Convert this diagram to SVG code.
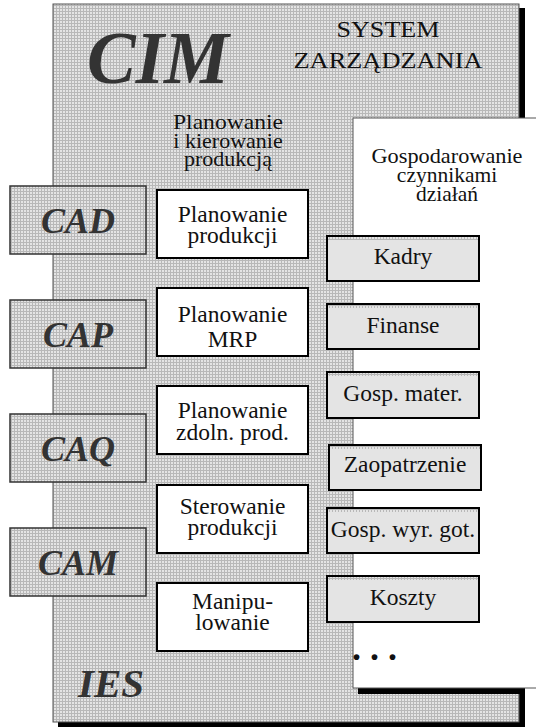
<svg xmlns="http://www.w3.org/2000/svg" width="536" height="727" viewBox="0 0 536 727">
  <defs>
    <pattern id="dots" width="3" height="3" patternUnits="userSpaceOnUse">
      <rect width="3" height="3" fill="#b8b8b8"/>
      <rect width="2" height="2" fill="#e4e4e4"/>
    </pattern>
    <style>
      .t { font-family: "Liberation Serif", "Times New Roman", serif; fill: #111; text-anchor: middle; }
      .m { font-size: 23.5px; }
      .big { font-family: "Liberation Serif", "Times New Roman", serif; font-weight: bold; font-style: italic; fill: #333; text-anchor: middle; }
      .side { fill: url(#dots); stroke: #333; stroke-width: 1.5; }
      .task { fill: #fff; stroke: #000; stroke-width: 2; }
      .res { fill: #e4e4e4; stroke: #000; stroke-width: 2; }
      .shadow { fill: #000; }
    </style>
  </defs>

  <!-- outer management system panel -->
  <g id="cim-panel">
    <rect class="shadow" x="519" y="8" width="6" height="719"/>
    <rect class="shadow" x="58" y="722" width="467" height="5"/>
    <rect x="53" y="4" width="466" height="718" fill="url(#dots)" stroke="#555" stroke-width="1"/>
    <text class="big" x="158" y="83" font-size="73">CIM</text>
    <text class="big" x="111" y="697" font-size="41">IES</text>
    <text class="t" x="388" y="37" font-size="24" textLength="103" lengthAdjust="spacingAndGlyphs">SYSTEM</text>
    <text class="t" x="388" y="68" font-size="24" textLength="189" lengthAdjust="spacingAndGlyphs">ZARZĄDZANIA</text>
    <text class="t" x="228" y="129" font-size="22" textLength="110" lengthAdjust="spacingAndGlyphs">Planowanie</text>
    <text class="t" x="228" y="148" font-size="22">i kierowanie</text>
    <text class="t" x="228" y="166" font-size="22">produkcją</text>
  </g>

  <!-- resource management panel -->
  <g id="resources-panel">
    <rect class="shadow" x="358" y="688" width="167" height="6"/>
    <rect x="353" y="118" width="200" height="570" fill="#fff" stroke="#555" stroke-width="1"/>
    <text class="t" x="447" y="163" font-size="21.5" textLength="151" lengthAdjust="spacingAndGlyphs">Gospodarowanie</text>
    <text class="t" x="447" y="182" font-size="21.5">czynnikami</text>
    <text class="t" x="447" y="201" font-size="21.5">działań</text>
    <text class="t" x="374.5" y="660" font-size="36" font-weight="bold" text-anchor="start">. . .</text>
  </g>

  <!-- CAx modules -->
  <g id="cad">
    <rect class="side" x="10" y="186" width="136" height="68"/>
    <text class="big" x="78" y="233" font-size="36">CAD</text>
  </g>
  <g id="cap">
    <rect class="side" x="10" y="300" width="136" height="68"/>
    <text class="big" x="78" y="347" font-size="36">CAP</text>
  </g>
  <g id="caq">
    <rect class="side" x="10" y="414" width="136" height="68"/>
    <text class="big" x="78" y="461" font-size="36">CAQ</text>
  </g>
  <g id="cam">
    <rect class="side" x="10" y="528" width="136" height="68"/>
    <text class="big" x="78" y="575" font-size="36">CAM</text>
  </g>

  <!-- production planning and control tasks -->
  <g id="planowanie-produkcji">
    <rect class="task" x="157" y="190" width="151" height="68"/>
    <text class="t m" x="232.5" y="222">Planowanie</text>
    <text class="t m" x="232.5" y="243">produkcji</text>
  </g>
  <g id="planowanie-mrp">
    <rect class="task" x="157" y="288" width="151" height="68"/>
    <text class="t m" x="232.5" y="322">Planowanie</text>
    <text class="t m" x="232.5" y="347">MRP</text>
  </g>
  <g id="planowanie-zdolnosci">
    <rect class="task" x="157" y="386" width="151" height="68"/>
    <text class="t m" x="232.5" y="418">Planowanie</text>
    <text class="t m" x="232.5" y="440">zdoln. prod.</text>
  </g>
  <g id="sterowanie-produkcji">
    <rect class="task" x="157" y="485" width="151" height="68"/>
    <text class="t m" x="232.5" y="514">Sterowanie</text>
    <text class="t m" x="232.5" y="535">produkcji</text>
  </g>
  <g id="manipulowanie">
    <rect class="task" x="157" y="583" width="151" height="68"/>
    <text class="t m" x="232.5" y="609">Manipu-</text>
    <text class="t m" x="232.5" y="630">lowanie</text>
  </g>

  <!-- resource areas -->
  <g id="kadry">
    <rect class="res" x="327" y="236" width="152" height="45"/>
    <rect x="328" y="237" width="150" height="3" fill="url(#dots)"/>
    <text class="t m" x="403" y="264">Kadry</text>
  </g>
  <g id="finanse">
    <rect class="res" x="327" y="304" width="152" height="45"/>
    <rect x="328" y="305" width="150" height="3" fill="url(#dots)"/>
    <text class="t m" x="403" y="333">Finanse</text>
  </g>
  <g id="gosp-mater">
    <rect class="res" x="327" y="372" width="152" height="46"/>
    <rect x="328" y="373" width="150" height="3" fill="url(#dots)"/>
    <text class="t m" x="403" y="401">Gosp. mater.</text>
  </g>
  <g id="zaopatrzenie">
    <rect class="res" x="329" y="445" width="152" height="45"/>
    <rect x="330" y="446" width="150" height="3" fill="url(#dots)"/>
    <text class="t m" x="405" y="472">Zaopatrzenie</text>
  </g>
  <g id="gosp-wyr-got">
    <rect class="res" x="327" y="508" width="152" height="45"/>
    <rect x="328" y="509" width="150" height="3" fill="url(#dots)"/>
    <text class="t m" x="403" y="537">Gosp. wyr. got.</text>
  </g>
  <g id="koszty">
    <rect class="res" x="327" y="576" width="152" height="46"/>
    <rect x="328" y="577" width="150" height="3" fill="url(#dots)"/>
    <text class="t m" x="403" y="605">Koszty</text>
  </g>

  <g id="connectors"/>
</svg>
